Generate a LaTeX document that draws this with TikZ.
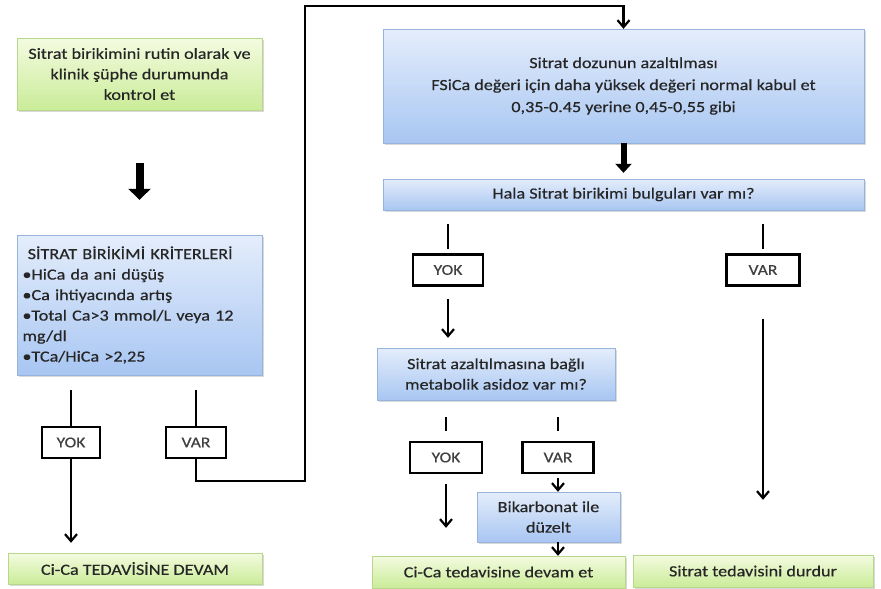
\documentclass[tikz,border=0pt]{standalone}
\usepackage{fontspec}
\setmainfont{Carlito}[FakeStretch=1.17, FakeBold=0.5]
\usetikzlibrary{arrows.meta, positioning, calc, shadows}
\definecolor{blueTop}{RGB}{228,237,251}
\definecolor{blueBot}{RGB}{168,198,242}
\definecolor{blueEdge}{RGB}{150,180,220}
\definecolor{greenTop}{RGB}{244,251,224}
\definecolor{greenBot}{RGB}{202,236,152}
\definecolor{greenEdge}{RGB}{185,215,140}
\tikzset{
    base/.style={draw, thin, align=center, text=black!85, inner sep=2pt, font=\fontsize{15.5}{20.5}\selectfont,
        drop shadow={shadow xshift=1.5pt, shadow yshift=-2pt, opacity=0.3}},
    process/.style={base, rectangle, draw=blueEdge, top color=blueTop, bottom color=blueBot},
    result/.style={base, rectangle, draw=greenEdge, top color=greenTop, bottom color=greenBot},
    choice/.style={draw=black, line width=2.2pt, fill=white, text=black!75, font=\fontsize{15}{17}\selectfont, minimum height=31pt},
    tick/.style={line width=2.2pt},
    arrow/.style={-{Straight Barb[length=7pt,width=12pt]}, line width=2.2pt},
    bigarrow/.style={-{Triangle[length=11pt,width=22pt]}, line width=8pt}
}

\begin{document}
\begin{tikzpicture}[x=1pt, y=-1pt]
    \useasboundingbox (0,0) rectangle (881,589);

    % Left column
    \node (start) [result, minimum width=245pt, minimum height=72pt] at (139.5,74) {Sitrat birikimini rutin olarak ve \\ klinik şüphe durumunda \\ kontrol et};
    \node (crit) [process, minimum width=245pt, minimum height=140pt, text width=234pt, align=left] at (139.5,305) {\ SİTRAT BİRİKİMİ KRİTERLERİ \\ •HiCa da ani düşüş \\ •Ca ihtiyacında artış \\ •Total Ca>3 mmol/L veya 12 \\ mg/dl \\ •TCa/HiCa >2,25};
    \node (yok1) [choice, minimum width=58pt] at (71,442.5) {YOK};
    \node (var1) [choice, minimum width=60pt] at (196,442.5) {VAR};
    \node (end1) [result, minimum width=254pt, minimum height=31pt] at (135,568.5) {Ci-Ca TEDAVİSİNE DEVAM};

    % Right part
    \node (reduce) [process, minimum width=481pt, minimum height=114pt, font=\fontsize{15.5}{22}\selectfont] at (623.5,86) {Sitrat dozunun azaltılması \\ FSiCa değeri için daha yüksek değeri normal kabul et \\ 0,35-0.45 yerine 0,45-0,55 gibi};
    \node (still) [process, minimum width=481pt, minimum height=31pt] at (623.5,194.5) {Hala Sitrat birikimi bulguları var mı?};
    \node (yok2) [choice, minimum width=70pt] at (448,270) {YOK};
    \node (var2) [choice, minimum width=73pt] at (763,270) {VAR};
    \node (acid) [process, minimum width=238pt, minimum height=52pt] at (496,374) {Sitrat azaltılmasına bağlı \\ metabolik asidoz var mı?};
    \node (yok3) [choice, minimum width=72pt] at (446,457.5) {YOK};
    \node (var3) [choice, minimum width=71pt] at (558,457.5) {VAR};
    \node (bicarb) [process, minimum width=143pt, minimum height=50pt] at (548.5,517) {Bikarbonat ile \\ düzelt};
    \node (end2) [result, minimum width=253pt, minimum height=32pt] at (498.5,572) {Ci-Ca tedavisine devam et};
    \node (end3) [result, minimum width=240pt, minimum height=32pt] at (753,571) {Sitrat tedavisini durdur};

    \coordinate (turn) at (305,6);

    % Flows
    \draw [bigarrow, shorten <=53pt, shorten >=35pt] (start) -- (crit);
    \draw [tick, shorten <=15pt] (crit.south -| yok1) -- (yok1);
    \draw [tick, shorten <=15pt] (crit.south -| var1) -- (var1);
    \draw [arrow, shorten >=10pt] (yok1) -- (yok1 |- end1.north);
    \draw [arrow] (var1.south) -- ++(0,22) -| (turn) -| (reduce.north);

    \draw [bigarrow, line width=6pt, -{Triangle[length=9pt,width=16pt]}, shorten >=6pt] (reduce) -- (still);
    \draw [tick, shorten <=14pt, shorten >=4pt] (still.south -| yok2) -- (yok2);
    \draw [tick, shorten <=14pt, shorten >=4pt] (still.south -| var2) -- (var2);
    \draw [arrow, shorten <=12pt, shorten >=10pt] (yok2) -- (yok2 |- acid.north);
    \draw [arrow, shorten <=32pt, shorten >=55pt] (var2) -- (var2 |- end3.north);

    \draw [tick, shorten <=17pt, shorten >=10pt] (acid.south -| yok3) -- (yok3);
    \draw [tick, shorten <=17pt, shorten >=10pt] (acid.south -| var3) -- (var3);
    \draw [arrow, shorten <=10pt, shorten >=28pt] (yok3) -- (yok3 |- end2.north);
    \draw [arrow, shorten <=4pt] (var3) -- (var3 |- bicarb.north);
    \draw [arrow] (var3 |- bicarb.south) -- (var3 |- end2.north);
\end{tikzpicture}
\end{document}
